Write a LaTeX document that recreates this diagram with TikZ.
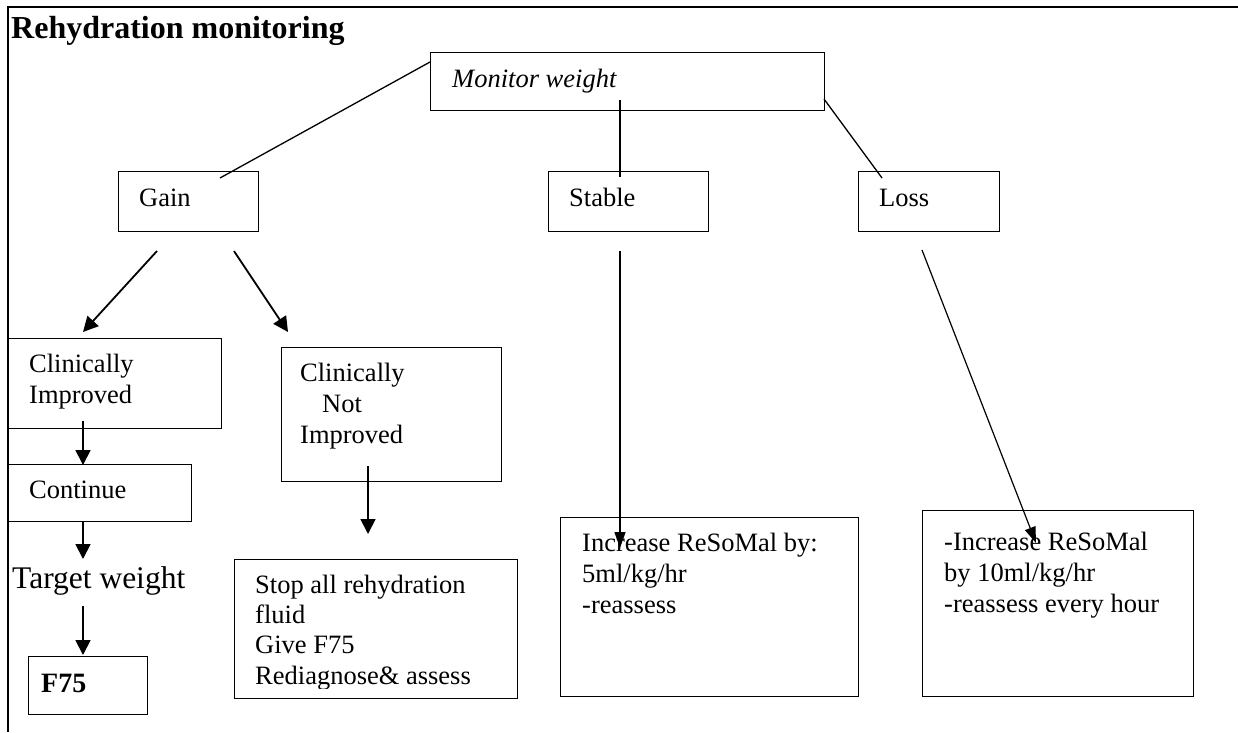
\documentclass[tikz,border=0pt]{standalone}
\usepackage{fontspec}
\setmainfont{Liberation Serif}
\usetikzlibrary{arrows.meta}
\begin{document}
\begin{tikzpicture}[x=1pt,y=-1pt,
  box/.style={draw, line width=1.3pt, rectangle, inner sep=0pt, anchor=north west},
  txt/.style={anchor=base west, inner sep=0pt, font=\fontsize{26.5}{31}\selectfont},
  bigtxt/.style={anchor=base west, inner sep=0pt, font=\fontsize{31.5}{36}\selectfont},
  conn/.style={line width=1.3pt},
  tarrow/.style={line width=1.8pt, -{Triangle[length=15pt,width=15pt]}},
  narrow/.style={line width=1.2pt, -{Triangle[length=16pt,width=11pt]}},
]
\useasboundingbox (0,0) rectangle (1238,732);
% frame
\draw[line width=2pt] (1238,7) -- (8,7) -- (8,732);
% title
\node[bigtxt, font=\fontsize{32}{36}\selectfont\bfseries] (title) at (11,38) {Rehydration monitoring};

% boxes
\node[box, minimum width=394pt, minimum height=58pt] (monitor) at (430,52) {};
\node[box, minimum width=140pt, minimum height=60pt] (gain) at (118,171) {};
\node[box, minimum width=160pt, minimum height=60pt] (stable) at (548,171) {};
\node[box, minimum width=141pt, minimum height=60pt] (loss) at (858,171) {};
\node[box, minimum width=213pt, minimum height=90pt] (ci) at (8,338) {};
\node[box, minimum width=220pt, minimum height=134pt] (ni) at (281,347) {};
\node[box, minimum width=183pt, minimum height=57pt] (cont) at (8,464) {};
\node[box, minimum width=119pt, minimum height=58pt] (f75) at (28,656) {};
\node[box, minimum width=283pt, minimum height=139pt] (stop) at (234,559) {};
\node[box, minimum width=298pt, minimum height=179pt] (sres) at (560,517) {};
\node[box, minimum width=271pt, minimum height=186pt] (lres) at (922,510) {};

% texts
\node[txt, font=\fontsize{26.5}{31}\selectfont\itshape] (monitor-t) at (452,87) {Monitor weight};
\node[txt] (gain-t) at (139,206) {Gain};
\node[txt] (stable-t) at (569,206) {Stable};
\node[txt] (loss-t) at (879,206) {Loss};
\node[txt] (ci-t) at (29,372) {\vtop{\hbox{Clinically}\hbox{Improved}}};
\node[txt] (ni-t) at (300,381) {\vtop{\hbox{Clinically}\hbox{\kern22pt Not}\hbox{Improved}}};
\node[txt] (cont-t) at (29,498) {Continue};
\node[bigtxt] (target) at (12,588) {Target weight};
\node[txt, font=\fontsize{28}{31}\selectfont\bfseries] (f75-t) at (41,692) {F75};
\begin{scope}
\clip (234,559) rectangle (517,688);
\node[txt, font=\fontsize{26.5}{30.4}\selectfont] (stop-t) at (255,593) {\vtop{\hbox{Stop all rehydration}\hbox{fluid}\hbox{Give F75}\hbox{Rediagnose\& assess}}};
\end{scope}
\node[txt] (sres-t) at (582,551) {\vtop{\hbox{Increase ReSoMal by:}\hbox{5ml/kg/hr}\hbox{-reassess}}};
\node[txt] (lres-t) at (944,550) {\vtop{\hbox{-Increase ReSoMal}\hbox{by 10ml/kg/hr}\hbox{-reassess every hour}}};

% connector end points
\coordinate (mw-g) at (430,62);   \coordinate (g-mw) at (220,178);
\coordinate (mw-s) at (620,100);  \coordinate (s-mw) at (620,177);
\coordinate (mw-l) at (824,99);   \coordinate (l-mw) at (882,178);
\coordinate (g-ci) at (157,251);  \coordinate (ci-g) at (83,332);
\coordinate (g-ni) at (234,251);  \coordinate (ni-g) at (288,332);
\coordinate (ci-c) at (83,421);   \coordinate (c-ci) at (83,465);
\coordinate (c-t) at (83,521);    \coordinate (t-c) at (83,559);
\coordinate (t-f) at (83,606);    \coordinate (f-t) at (83,655);
\coordinate (ni-s) at (368,466);  \coordinate (s-ni) at (368,534);
\coordinate (s-r) at (620,251);   \coordinate (r-s) at (620,548);
\coordinate (l-r) at (922,250);   \coordinate (r-l) at (1036,543);

\draw[conn] (mw-g) -- (g-mw);
\draw[conn] (mw-s) -- (s-mw);
\draw[conn] (mw-l) -- (l-mw);
\draw[tarrow] (g-ci) -- (ci-g);
\draw[tarrow] (g-ni) -- (ni-g);
\draw[tarrow] (ci-c) -- (c-ci);
\draw[tarrow] (c-t) -- (t-c);
\draw[tarrow] (t-f) -- (f-t);
\draw[tarrow] (ni-s) -- (s-ni);
\draw[narrow] (s-r) -- (r-s);
\draw[narrow] (l-r) -- (r-l);
\end{tikzpicture}
\end{document}
